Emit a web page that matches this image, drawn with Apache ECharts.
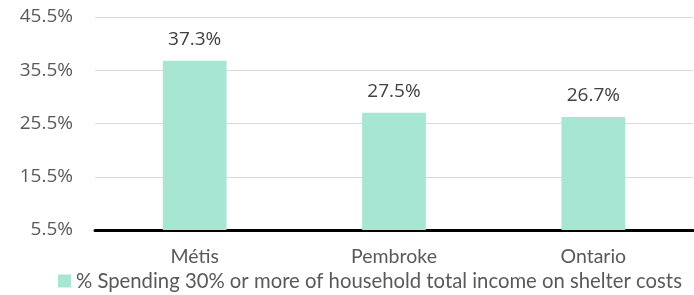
<!DOCTYPE html>
<html>
<head>
<meta charset="utf-8">
<script src="https://cdn.jsdelivr.net/npm/echarts@6/dist/echarts.min.js"></script>
<style>
html, body { margin: 0; padding: 0; background: #fff; }
#chart { width: 694px; height: 295px; }
</style>
</head>
<body>
<div id="chart"></div>
<script>
var categories = ['Métis', 'Pembroke', 'Ontario'];
var values = [37.3, 27.5, 26.7];
var seriesName = '% Spending 30% or more of household total income on shelter costs';

var chart = echarts.init(document.getElementById('chart'));
chart.setOption({
    animation: false,
    textStyle: { fontFamily: 'Lato' },
    grid: { left: 95, right: 1, top: 17, bottom: 65 },
    legend: {
        top: 266,
        left: 53,
        itemWidth: 13,
        itemHeight: 13,
        itemGap: 10,
        textStyle: { color: '#595959', fontSize: 20.3, fontFamily: 'Lato' },
        data: [{ name: seriesName, icon: 'rect' }]
    },
    xAxis: {
        type: 'category',
        data: categories,
        axisLine: { lineStyle: { color: '#000', width: 3 } },
        axisTick: { show: false },
        axisLabel: { color: '#595959', fontSize: 19.5, margin: 17 }
    },
    yAxis: {
        type: 'value',
        min: 5.5,
        max: 45.5,
        interval: 10,
        axisLine: { show: false },
        axisTick: { show: false },
        splitLine: { lineStyle: { color: '#d9d9d9', width: 1 } },
        axisLabel: {
            color: '#595959', fontSize: 19, margin: 22, fontFamily: 'Open Sans',
            formatter: function (v) { return v.toFixed(1) + '%'; }
        }
    },
    series: [{
        name: seriesName,
        type: 'bar',
        data: values,
        barWidth: '32%',
        itemStyle: { color: '#a8e6d4' },
        label: {
            show: true,
            position: 'top',
            distance: 12,
            color: '#404040',
            fontSize: 19,
            fontFamily: 'Open Sans',
            formatter: function (p) { return p.value.toFixed(1) + '%'; }
        }
    }]
});
</script>
</body>
</html>
